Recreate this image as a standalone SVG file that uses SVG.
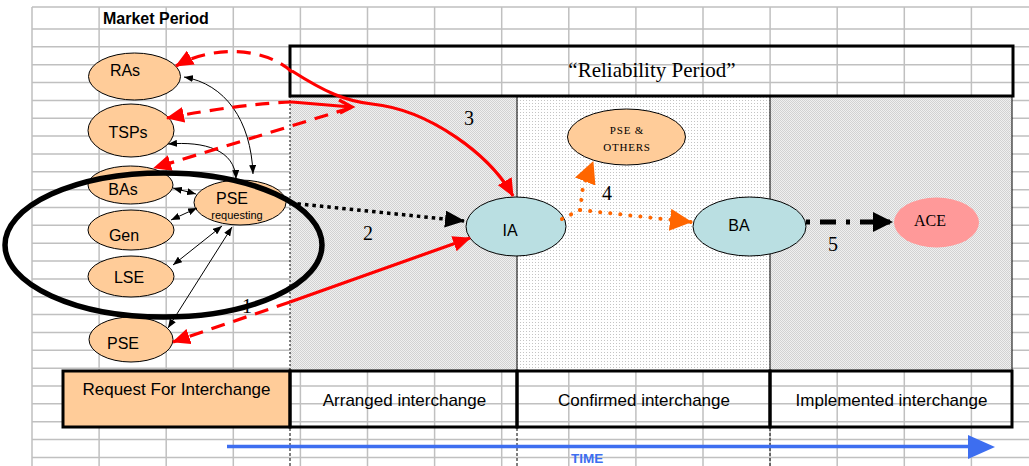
<svg xmlns="http://www.w3.org/2000/svg" width="1029" height="466" viewBox="0 0 1029 466">
<style>
.grid{stroke:#C0C0C0;stroke-width:1.5;fill:none}
.orange{fill:#FFCC99;stroke:#000;stroke-width:1}
.blue{fill:#BADFE2;stroke:#000;stroke-width:1}
.sans{font-family:"Liberation Sans",Arial,sans-serif;fill:#000}
.serif{font-family:"Liberation Serif","Times New Roman",serif;fill:#000}
.lbl{font-family:"Liberation Serif","Times New Roman",serif;font-size:20px;fill:#000;text-anchor:middle}
.box{fill:none;stroke:#000;stroke-width:3}
.red{fill:none;stroke:#FF0000;stroke-width:3.2}
.reddash{fill:none;stroke:#FF0000;stroke-width:3.2;stroke-dasharray:14 9}
.thin{fill:none;stroke:#000;stroke-width:1}
</style>
<defs>
<pattern id="p1" width="2" height="2" patternUnits="userSpaceOnUse">
<rect width="2" height="2" fill="#F0F0F0"/>
<rect width="1" height="1" fill="#D2D2D2"/>
<rect x="1" y="1" width="1" height="1" fill="#D2D2D2"/>
</pattern>
<pattern id="p2" width="3" height="3" patternUnits="userSpaceOnUse">
<rect width="3" height="3" fill="#FFFFFF"/>
<rect x="1" y="1" width="1" height="1" fill="#C4C4C4"/>
</pattern>
<marker id="ar" viewBox="0 0 18 16" refX="17" refY="8" markerWidth="18" markerHeight="16" markerUnits="userSpaceOnUse" orient="auto"><path d="M0,0 L18,8 L0,16 z" fill="#FF0000"/></marker>
<marker id="ab" viewBox="0 0 20 17" refX="19" refY="8.5" markerWidth="20" markerHeight="17" markerUnits="userSpaceOnUse" orient="auto"><path d="M0,0 L20,8.5 L0,17 z" fill="#000"/></marker>
<marker id="ab5" viewBox="0 0 20 20" refX="19" refY="10" markerWidth="20" markerHeight="20" markerUnits="userSpaceOnUse" orient="auto"><path d="M0,0 L20,10 L0,20 z" fill="#000"/></marker>
<marker id="ao" viewBox="0 0 22 22" refX="21" refY="11" markerWidth="22" markerHeight="22" markerUnits="userSpaceOnUse" orient="auto"><path d="M0,0 L22,11 L0,22 z" fill="#FF6600"/></marker>
<marker id="as" viewBox="0 0 9 7" refX="9" refY="3.5" markerWidth="9" markerHeight="7" markerUnits="userSpaceOnUse" orient="auto-start-reverse"><path d="M0,0 L9,3.5 L0,7 z" fill="#000"/></marker>
</defs>

<g id="grid">
<path class="grid" d="M32,7 H1029 M32,29 H1029 M32,46.85 H1029 M32,64.7 H1029 M32,82.55 H1029 M32,100.4 H1029 M32,118.25 H1029 M32,136.1 H1029 M32,153.95 H1029 M32,171.8 H1029 M32,189.65 H1029 M32,207.5 H1029 M32,225.35 H1029 M32,243.2 H1029 M32,261.05 H1029 M32,278.9 H1029 M32,296.75 H1029 M32,314.6 H1029 M32,332.45 H1029 M32,350.3 H1029 M32,368.15 H1029 M32,386 H1029 M32,403.85 H1029 M32,421.7 H1029 M32,439.55 H1029 M32,457.4 H1029"/>
<path class="grid" d="M32,7 V466 M99.1,7 V466 M166.2,7 V466 M233.3,7 V466 M300.4,7 V466 M367.5,7 V466 M434.6,7 V466 M501.7,7 V466 M568.8,7 V466 M635.9,7 V466 M703,7 V466 M770.1,7 V466 M837.2,7 V466 M904.3,7 V466 M971.4,7 V466"/>
</g>

<g id="periods">
<rect x="290" y="96" width="227" height="275" fill="url(#p1)"/>
<rect x="517" y="96" width="253" height="275" fill="url(#p2)"/>
<rect x="770" y="96" width="242" height="275" fill="url(#p1)"/>
<line x1="290" y1="96" x2="290" y2="371" stroke="#000" stroke-width="1" stroke-dasharray="2 2"/>
<line class="thin" x1="517" y1="96" x2="517" y2="371"/>
<line class="thin" x1="770" y1="96" x2="770" y2="371"/>
<line class="thin" x1="1012" y1="96" x2="1012" y2="371"/>
<rect class="box" x="290" y="46" width="723" height="50"/>
<text class="serif" x="652" y="77" font-size="21" text-anchor="middle">“Reliability Period”</text>
<text class="sans" x="103" y="24" font-size="16" font-weight="bold">Market Period</text>
</g>

<g id="phases">
<rect x="63" y="371" width="227" height="56" fill="#FFCC99" stroke="#000" stroke-width="3"/>
<text class="sans" x="176.5" y="395" font-size="17" text-anchor="middle">Request For Interchange</text>
<rect class="box" x="290" y="371" width="227" height="56"/>
<text class="sans" x="404.5" y="406" font-size="17" text-anchor="middle">Arranged interchange</text>
<rect class="box" x="517" y="371" width="253" height="56"/>
<text class="sans" x="644" y="406" font-size="17" text-anchor="middle">Confirmed interchange</text>
<rect class="box" x="770" y="371" width="242" height="56"/>
<text class="sans" x="891.5" y="406" font-size="17" text-anchor="middle">Implemented interchange</text>
<path d="M290,428 V466 M517,428 V466 M770,428 V466" stroke="#000" stroke-width="1" stroke-dasharray="3 2" fill="none"/>
</g>

<g id="time">
<line x1="227" y1="446.5" x2="972" y2="446.5" stroke="#3D6EF0" stroke-width="3.5"/>
<polygon points="968,435 995,447 968,459" fill="#3D6EF0"/>
<text class="sans" x="571" y="463" font-size="13.5" font-weight="bold" style="fill:#3D6EF0">TIME</text>
</g>

<g id="node-RAs"><ellipse class="orange" cx="134.5" cy="76.5" rx="46" ry="23.5"/><text class="sans" x="125" y="76" font-size="16" text-anchor="middle">RAs</text></g>
<g id="node-TSPs"><ellipse class="orange" cx="131" cy="130.5" rx="43" ry="26.5"/><text class="sans" x="128" y="138" font-size="16" text-anchor="middle">TSPs</text></g>
<g id="node-BAs"><ellipse class="orange" cx="130.5" cy="185" rx="42.5" ry="19"/><text class="sans" x="123" y="195" font-size="16" text-anchor="middle">BAs</text></g>
<g id="node-Gen"><ellipse class="orange" cx="131" cy="230" rx="43" ry="20"/><text class="sans" x="124" y="241" font-size="16" text-anchor="middle">Gen</text></g>
<g id="node-LSE"><ellipse class="orange" cx="131" cy="276.5" rx="43" ry="20.5"/><text class="sans" x="129" y="283" font-size="16" text-anchor="middle">LSE</text></g>
<g id="node-PSE"><ellipse class="orange" cx="131" cy="339.5" rx="42" ry="22.5"/><text class="sans" x="123" y="349" font-size="16" text-anchor="middle">PSE</text></g>
<g id="node-PSEreq"><ellipse class="orange" cx="240" cy="202.5" rx="46" ry="22.5"/><text class="sans" x="232" y="204" font-size="16" text-anchor="middle">PSE</text><text class="sans" x="237" y="219" font-size="11" text-anchor="middle">requesting</text></g>
<g id="node-IA"><ellipse class="blue" cx="516" cy="226.5" rx="50" ry="29.5"/><text class="sans" x="510" y="236" font-size="16" text-anchor="middle">IA</text></g>
<g id="node-PSEothers"><ellipse class="orange" cx="626.5" cy="137" rx="59" ry="28"/><text class="serif" x="627" y="134" font-size="11" text-anchor="middle" letter-spacing="0.8">PSE  &amp;</text><text class="serif" x="627" y="151" font-size="11" text-anchor="middle" letter-spacing="0.8">OTHERS</text></g>
<g id="node-BA"><ellipse class="blue" cx="749.5" cy="226.5" rx="56.5" ry="29.5"/><text class="sans" x="739" y="231" font-size="16" text-anchor="middle">BA</text></g>
<g id="node-ACE"><ellipse cx="936.5" cy="222.5" rx="42.5" ry="25" fill="#FF9999"/><text class="serif" x="930" y="226" font-size="16" text-anchor="middle">ACE</text></g>

<g id="connectors">
<!-- thin black double arrows -->
<path class="thin" d="M184,77 C225,84 251,120 253,174" marker-start="url(#as)" marker-end="url(#as)"/>
<path class="thin" d="M168,144 C205,141 235,150 236,179" marker-start="url(#as)" marker-end="url(#as)"/>
<path class="thin" d="M173,188 L196,194" marker-start="url(#as)" marker-end="url(#as)"/>
<path class="thin" d="M171,220 L197,208" marker-start="url(#as)" marker-end="url(#as)"/>
<path class="thin" d="M173,265 L222,226" marker-start="url(#as)" marker-end="url(#as)"/>
<path class="thin" d="M168,328 L232,227" marker-start="url(#as)" marker-end="url(#as)"/>
<!-- red connectors -->
<path class="reddash" d="M292,72 C266,48 215,44 176,66" marker-end="url(#ar)"/>
<path class="reddash" d="M292,102 Q240,104 167,118" marker-end="url(#ar)"/>
<path class="reddash" d="M350,108 L154,168" marker-end="url(#ar)"/>
<path class="red" d="M292,102 L351,107"/>
<path class="red" d="M339,100 L352,107 L340,113"/>
<path class="red" d="M292,71 C325,92 345,101 372,104 C430,110 490,155 513,196" marker-end="url(#ar)"/>
<path class="red" d="M290,302 L470,238" marker-end="url(#ar)"/>
<path class="reddash" d="M290,302 L173,342" marker-end="url(#ar)"/>
<!-- 2 -->
<path d="M290,203 L464,221" fill="none" stroke="#000" stroke-width="3.5" stroke-dasharray="3.5 4" marker-end="url(#ab)"/>
<!-- 4 -->
<path d="M562,219 L580,210 L691,222" fill="none" stroke="#FF6600" stroke-width="4" stroke-linecap="round" stroke-dasharray="0.1 10" marker-end="url(#ao)"/>
<path d="M580,210 L583,187 L593,162" fill="none" stroke="#FF6600" stroke-width="4" stroke-linecap="round" stroke-dasharray="0.1 10" marker-end="url(#ao)"/>
<!-- 5 -->
<path d="M806,222 L892,222" fill="none" stroke="#000" stroke-width="5" stroke-dasharray="4 10 16 10" marker-end="url(#ab5)"/>
</g>

<g id="labels">
<text class="lbl" x="247" y="313">1</text>
<text class="lbl" x="368" y="240">2</text>
<text class="lbl" x="469" y="125">3</text>
<text class="lbl" x="607" y="200">4</text>
<text class="lbl" x="833" y="251">5</text>
</g>

<g id="group-ellipse">
<ellipse cx="163.5" cy="245" rx="158.5" ry="72" fill="none" stroke="#000" stroke-width="5.5"/>
</g>
</svg>
